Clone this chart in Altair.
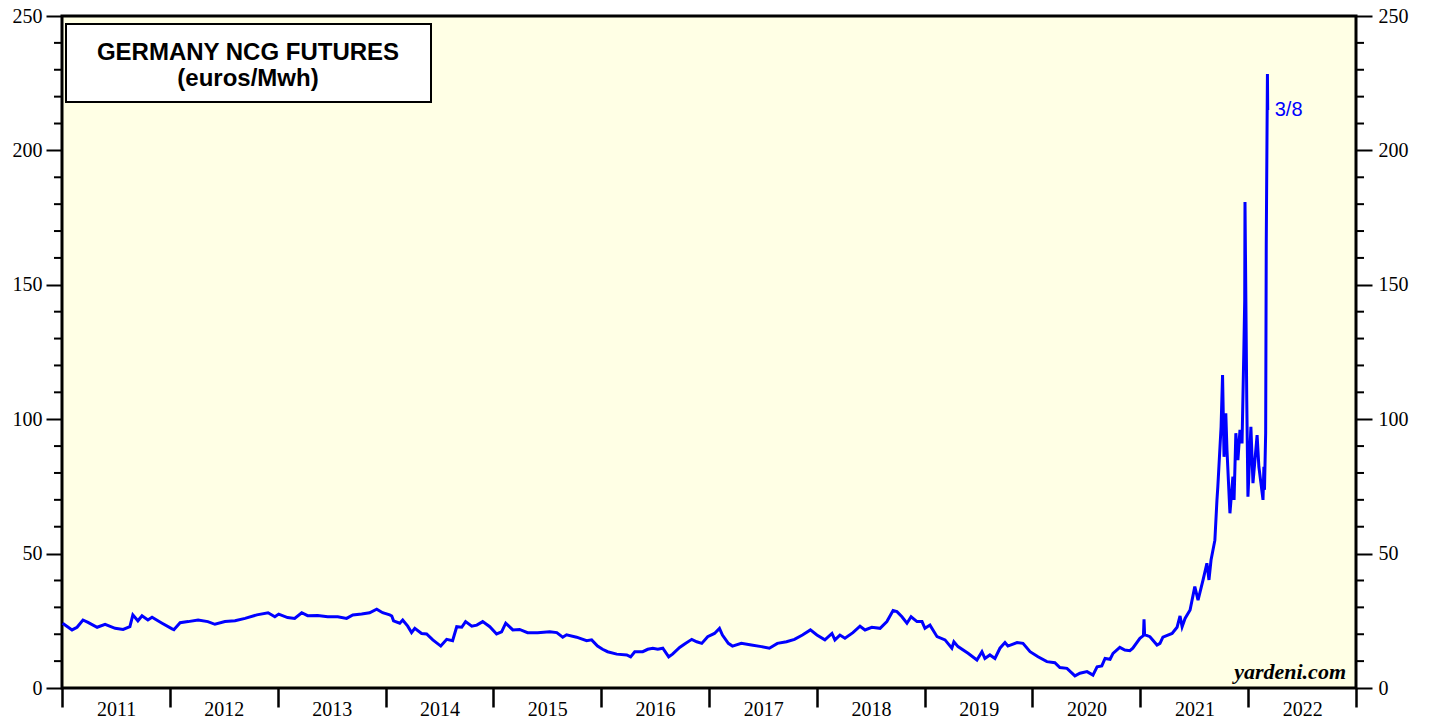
import altair as alt
import pandas as pd

# ---------------- data ----------------
dates = [
    "2011-01-03", "2011-02-04", "2011-02-21", "2011-03-13", "2011-03-30", "2011-04-30", "2011-05-27",
    "2011-06-30", "2011-07-27", "2011-08-19", "2011-08-29", "2011-09-15", "2011-09-29", "2011-10-19",
    "2011-11-02", "2011-12-06", "2012-01-09", "2012-01-15", "2012-02-05", "2012-03-03", "2012-04-06",
    "2012-05-09", "2012-06-02", "2012-07-06", "2012-08-09", "2012-09-12", "2012-10-22", "2012-11-29",
    "2012-12-22", "2013-01-04", "2013-02-03", "2013-02-27", "2013-03-23", "2013-04-12", "2013-05-16",
    "2013-06-19", "2013-07-23", "2013-08-22", "2013-09-12", "2013-10-12", "2013-11-08", "2013-12-02",
    "2013-12-22", "2014-01-15", "2014-01-22", "2014-01-28", "2014-02-18", "2014-02-28", "2014-03-17",
    "2014-03-30", "2014-04-10", "2014-05-03", "2014-05-20", "2014-06-10", "2014-07-07", "2014-07-27",
    "2014-08-16", "2014-08-30", "2014-09-16", "2014-09-29", "2014-10-20", "2014-11-06", "2014-11-26",
    "2014-12-20", "2015-01-12", "2015-01-29", "2015-02-12", "2015-02-19", "2015-03-08", "2015-03-31",
    "2015-04-27", "2015-05-31", "2015-07-11", "2015-08-04", "2015-08-24", "2015-09-06", "2015-10-10",
    "2015-11-13", "2015-11-30", "2015-12-20", "2016-01-06", "2016-01-23", "2016-02-23", "2016-03-28",
    "2016-04-10", "2016-04-24", "2016-05-21", "2016-06-07", "2016-06-24", "2016-07-11", "2016-07-28",
    "2016-08-17", "2016-08-30", "2016-09-23", "2016-10-10", "2016-11-03", "2016-11-20", "2016-12-07",
    "2016-12-27", "2017-01-19", "2017-02-05", "2017-02-15", "2017-03-07", "2017-03-21", "2017-04-20",
    "2017-05-24", "2017-06-27", "2017-07-24", "2017-08-20", "2017-09-20", "2017-10-17", "2017-11-13",
    "2017-12-10", "2018-01-01", "2018-01-28", "2018-02-21", "2018-03-03", "2018-03-20", "2018-04-06",
    "2018-05-03", "2018-05-27", "2018-06-13", "2018-07-06", "2018-08-03", "2018-08-26", "2018-09-16",
    "2018-09-29", "2018-10-16", "2018-11-02", "2018-11-16", "2018-12-06", "2018-12-23", "2019-01-02",
    "2019-01-19", "2019-02-12", "2019-03-11", "2019-04-03", "2019-04-10", "2019-04-24", "2019-05-28",
    "2019-06-27", "2019-07-14", "2019-07-24", "2019-08-10", "2019-08-27", "2019-09-13", "2019-09-30",
    "2019-10-10", "2019-11-10", "2019-11-30", "2019-12-24", "2020-01-20", "2020-02-19", "2020-03-17",
    "2020-04-03", "2020-04-27", "2020-05-24", "2020-06-10", "2020-07-04", "2020-07-24", "2020-08-07",
    "2020-08-23", "2020-09-03", "2020-09-20", "2020-09-30", "2020-10-23", "2020-11-09", "2020-11-26",
    "2020-12-06", "2020-12-30", "2021-01-11", "2021-01-13", "2021-01-15", "2021-02-02", "2021-02-26",
    "2021-03-08", "2021-03-18", "2021-04-18", "2021-05-05", "2021-05-15", "2021-05-22", "2021-06-01",
    "2021-06-18", "2021-07-04", "2021-07-15", "2021-08-01", "2021-08-14", "2021-08-21", "2021-08-28",
    "2021-09-10", "2021-09-17", "2021-09-20", "2021-10-01", "2021-10-06", "2021-10-11", "2021-10-17",
    "2021-10-21", "2021-10-31", "2021-11-10", "2021-11-14", "2021-11-20", "2021-11-27", "2021-12-04",
    "2021-12-11", "2021-12-17", "2021-12-20", "2021-12-21", "2021-12-27", "2021-12-31", "2022-01-10",
    "2022-01-17", "2022-01-31", "2022-02-06", "2022-02-13", "2022-02-20", "2022-02-23", "2022-02-25",
    "2022-03-01", "2022-03-02", "2022-03-03", "2022-03-07", "2022-03-08",
]
prices = [
    24.1, 21.6, 22.6, 25.3, 24.4, 22.6, 23.7,
    22.2, 21.8, 22.8, 27.2, 25.0, 26.9, 25.3,
    26.3, 24.1, 22.0, 21.7, 24.3, 24.7, 25.3,
    24.7, 23.7, 24.7, 25.0, 25.9, 27.2, 28.0,
    26.5, 27.5, 26.2, 25.9, 28.0, 26.9, 27.0,
    26.5, 26.5, 25.9, 27.2, 27.5, 28.0, 29.3,
    28.0, 27.2, 26.8, 25.0, 24.1, 25.3, 23.0,
    20.6, 22.2, 20.3, 20.1, 17.9, 15.6, 18.1,
    17.6, 22.8, 22.6, 24.7, 23.0, 23.4, 24.7,
    22.8, 20.1, 20.9, 24.1, 23.4, 21.6, 21.8,
    20.6, 20.6, 20.9, 20.6, 18.9, 19.8, 18.9,
    17.6, 17.9, 15.6, 14.4, 13.5, 12.6, 12.3,
    11.6, 13.5, 13.5, 14.4, 14.8, 14.4, 14.8,
    11.6, 12.6, 15.1, 16.4, 18.1, 17.2, 16.6,
    19.1, 20.3, 22.2, 19.7, 16.6, 15.6, 16.6,
    16.0, 15.4, 14.8, 16.6, 17.2, 18.1, 19.7,
    21.6, 19.7, 17.9, 20.3, 17.9, 19.7, 18.5,
    20.6, 23.0, 21.6, 22.6, 22.2, 24.7, 28.8,
    28.4, 26.5, 24.1, 26.5, 24.7, 24.7, 22.2,
    23.4, 19.1, 17.9, 14.8, 17.2, 15.4, 12.9,
    10.4, 13.5, 11.0, 12.3, 11.0, 14.8, 16.9,
    15.6, 16.9, 16.6, 13.5, 11.6, 9.8, 9.4,
    7.6, 7.3, 4.5, 5.5, 6.1, 4.8, 7.9,
    8.2, 11.0, 10.7, 12.9, 15.1, 14.1, 13.9,
    14.8, 18.5, 19.5, 25.6, 19.8, 19.1, 16.0,
    16.6, 18.9, 20.3, 22.6, 26.8, 22.8, 25.9,
    29.0, 37.7, 32.7, 40.2, 46.4, 40.2, 47.6,
    55.0, 69.9, 74.9, 97.2, 116.4, 86.0, 102.2,
    88.5, 65.0, 78.6, 70.0, 94.8, 84.8, 96.0,
    91.0, 125.0, 144.0, 180.8, 107.0, 71.2, 97.2,
    76.2, 94.1, 82.3, 76.2, 70.0, 82.3, 73.7,
    94.8, 130.0, 165.0, 228.4, 215.0,
]
major_ticks = [0, 50, 100, 150, 200, 250]
minor_ticks = [v for v in range(10, 250, 10) if v % 50 != 0]
years = list(range(2011, 2024))
title_lines = ["GERMANY NCG FUTURES", "(euros/Mwh)"]
end_label = "3/8"
source_text = "yardeni.com"

# ---------------- chart ----------------
W, H = 1294, 672
df = pd.DataFrame({"date": dates, "price": prices})
label_df = pd.DataFrame({"date": [dates[-1]], "price": [prices[-1]], "label": [end_label]})
minor_df = pd.DataFrame({"v": minor_ticks})
one = pd.DataFrame({"k": [0]})

x_scale = alt.Scale(
    domain=[alt.DateTime(year=2011, month=1, date=1, utc=True),
            alt.DateTime(year=2023, month=1, date=1, utc=True)],
    nice=False,
)
y_scale = alt.Scale(domain=[0, 250], nice=False, zero=False)

serif = "Liberation Serif"
sans = "Liberation Sans"

x_axis = alt.Axis(
    values=[alt.DateTime(year=y, month=1, date=1, utc=True) for y in years],
    labelExpr="utcyear(datum.value) >= 2023 ? '' : utcFormat(datum.value, '%Y')",
    tickSize=19, tickWidth=2.5, tickColor="black",
    labelOffset=54, labelAlign="center", labelPadding=-8,
    labelFont=serif, labelFontSize=20, labelColor="black",
    labelFlush=False, labelOverlap=False, labelBound=False,
    domain=False, grid=False, title=None, orient="bottom",
)


def y_axis(orient):
    return alt.Axis(
        values=major_ticks, orient=orient,
        tickSize=16, tickWidth=2, tickColor="black",
        labelPadding=4 if orient == "left" else 6,
        labelFont=serif, labelFontSize=20, labelColor="black",
        labelFlush=False, labelOverlap=False, labelBound=False,
        domain=False, grid=False, title=None,
    )


line = alt.Chart(df).mark_line(color="#0000FF", strokeWidth=3).encode(
    x=alt.X("date:T", scale=x_scale, axis=x_axis),
    y=alt.Y("price:Q", scale=y_scale, axis=y_axis("left")),
)

end_text = alt.Chart(label_df).mark_text(
    font=sans, fontSize=20, color="#0000FF", align="left", baseline="middle", dx=7,
).encode(
    x=alt.X("date:T", scale=x_scale, axis=x_axis),
    y=alt.Y("price:Q", scale=y_scale, axis=None),
    text="label:N",
)

right_minor = alt.Chart(minor_df).mark_rule(color="black", strokeWidth=2).encode(
    y=alt.Y("v:Q", scale=y_scale, axis=y_axis("right")),
    x=alt.value(W), x2=alt.value(W + 8),
)
left_minor = alt.Chart(minor_df).mark_rule(color="black", strokeWidth=2).encode(
    y=alt.Y("v:Q", scale=y_scale, axis=None),
    x=alt.value(-8), x2=alt.value(0),
)

box = alt.Chart(one).mark_rect(fill="white", stroke="black", strokeWidth=2).encode(
    x=alt.value(4), x2=alt.value(369), y=alt.value(8), y2=alt.value(86)
)
title1 = alt.Chart(one).mark_text(
    text=title_lines[0], font=sans, fontSize=24, fontWeight="bold", color="black",
    align="center", baseline="alphabetic",
).encode(x=alt.value(186), y=alt.value(44))
title2 = alt.Chart(one).mark_text(
    text=title_lines[1], font=sans, fontSize=24, fontWeight="bold", color="black",
    align="center", baseline="alphabetic",
).encode(x=alt.value(186), y=alt.value(70))

source = alt.Chart(one).mark_text(
    text=source_text, font=serif, fontSize=22, fontWeight="bold", fontStyle="italic",
    color="black", align="right", baseline="alphabetic",
).encode(x=alt.value(1284), y=alt.value(663))

chart = (
    alt.layer(line, end_text, right_minor, left_minor, box, title1, title2, source)
    .resolve_axis(y="independent")
    .properties(
        width=W, height=H,
        autosize=alt.AutoSizeParams(type="none"),
        padding={"left": 54, "top": 8, "right": 58, "bottom": 31},
        background="white",
    )
    .configure_view(fill="#FFFFE5", stroke="black", strokeWidth=3)
)

chart.save("out.html", embed_options={"renderer": "svg", "actions": False})
